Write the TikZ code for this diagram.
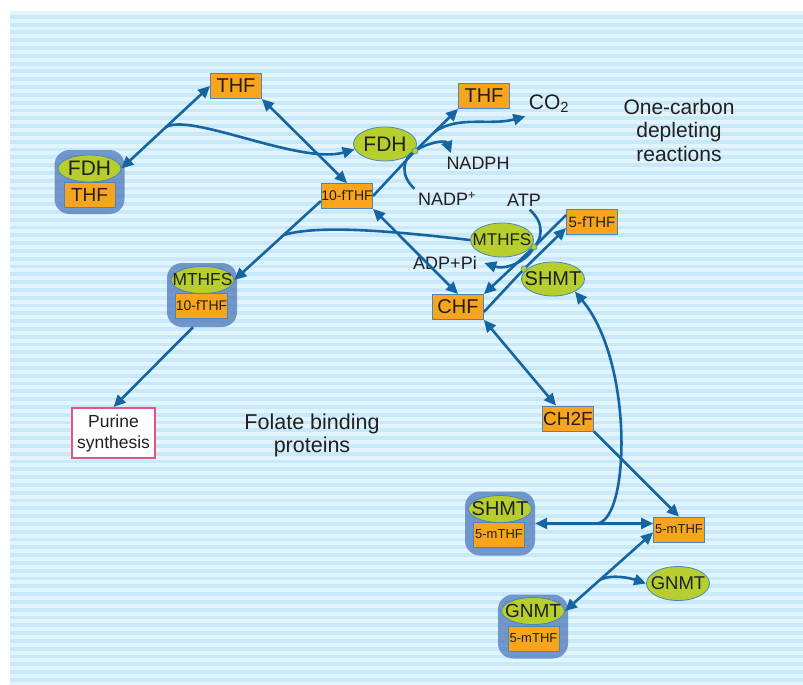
\documentclass[tikz,border=0pt]{standalone}
\usepackage{fontspec}
\setmainfont{Liberation Sans}
\usetikzlibrary{arrows.meta,shapes,positioning,calc}

\definecolor{flowblue}{HTML}{1565A3}
\definecolor{boxorange}{HTML}{F8A51C}
\definecolor{enzgreen}{HTML}{B6CE2E}
\definecolor{edgeblue}{HTML}{4A86BE}
\definecolor{stripelight}{HTML}{E2F4FC}
\definecolor{stripedark}{HTML}{C7E9F9}
\definecolor{cplxblue}{HTML}{4F78BA}
\definecolor{purpink}{HTML}{E8527E}
\definecolor{txt}{HTML}{231F20}

\begin{document}
\begin{tikzpicture}[x=1pt, y=-1pt,
    met/.style={draw=edgeblue, line width=0.8pt, fill=boxorange, minimum width=51pt, minimum height=25pt, inner sep=0pt, text=txt, font=\fontsize{20}{24}\selectfont},
    enz/.style={ellipse, draw=edgeblue, line width=0.8pt, fill=enzgreen, minimum width=63pt, minimum height=34pt, inner ysep=0pt, inner xsep=-8pt, text=txt, font=\fontsize{20}{24}\selectfont},
    cplx/.style={rounded corners=15pt, fill=cplxblue, fill opacity=0.75, minimum width=70pt, minimum height=64pt},
    lbl/.style={text=txt, align=center, font=\fontsize{18}{22}\selectfont},
    rxn/.style={circle, draw=edgeblue, line width=0.6pt, fill=enzgreen, inner sep=0pt, minimum size=6pt},
    flow/.style={draw=flowblue, line width=2.6pt, -{Triangle[length=12pt,width=11pt]}},
    flow2/.style={flow, {Triangle[length=12pt,width=11pt]}-{Triangle[length=12pt,width=11pt]}},
    feed/.style={draw=flowblue, line width=2.6pt}]

    % striped background
    \useasboundingbox (0,0) rectangle (803,685);
    \fill[stripelight] (10,11) rectangle (803,685);
    \foreach \i in {0,...,85}
        \fill[stripedark] (10,{14.9+7.8*\i}) rectangle (803,{18.8+7.8*\i});

    % protein bound folates
    \node[cplx] (c1) at (89.5,182) {};
    \node[enz, minimum height=27pt, font=\fontsize{21}{24}\selectfont] (ce1) at (89.5,168.5) {FDH};
    \node[met, font=\fontsize{19}{24}\selectfont] (cm1) at (89.5,194.5) {THF};

    \node[cplx] (c2) at (202,295) {};
    \node[enz, minimum height=27pt, font=\fontsize{17.4}{22}\selectfont] (ce2) at (202.5,280) {MTHFS};
    \node[met, font=\fontsize{14}{18}\selectfont] (cm2) at (201.5,306) {10-fTHF};

    \node[cplx] (c3) at (500,523.5) {};
    \node[enz, minimum height=27pt] (ce3) at (500,509) {SHMT};
    \node[met, font=\fontsize{13}{16}\selectfont] (cm3) at (499,534.5) {5-mTHF};

    \node[cplx] (c4) at (533,626.5) {};
    \node[enz, minimum height=27pt, font=\fontsize{19}{24}\selectfont] (ce4) at (533,611) {GNMT};
    \node[met, font=\fontsize{13}{16}\selectfont] (cm4) at (533.5,638.5) {5-mTHF};

    % free folates
    \node[met] (thf1) at (236,86) {THF};
    \node[met] (thf2) at (484,96) {THF};
    \node[met, font=\fontsize{14}{18}\selectfont] (tf10) at (347,196) {10-fTHF};
    \node[met, font=\fontsize{15}{18}\selectfont] (ff5) at (592,222) {5-fTHF};
    \node[met] (chf) at (458,307) {CHF};
    \node[met, font=\fontsize{19}{24}\selectfont] (ch2f) at (568,418.5) {CH2F};
    \node[met, font=\fontsize{13}{16}\selectfont] (m5) at (679,529.5) {5-mTHF};

    % enzymes
    \node[enz, font=\fontsize{21}{24}\selectfont] (fdh) at (385,144) {FDH};
    \node[enz, font=\fontsize{17}{22}\selectfont] (mthfs) at (502,240) {MTHFS};
    \node[enz] (shmt) at (553,279) {SHMT};
    \node[enz, font=\fontsize{18.5}{22}\selectfont] (gnmt) at (678,583.5) {GNMT};

    % labels
    \node[lbl, font=\fontsize{21}{24}\selectfont] (co2) at (549,104) {CO\textsubscript{2}};
    \node[lbl] (nadph) at (478,163) {NADPH};
    \node[lbl] (nadp) at (447,199) {NADP\textsuperscript{+}};
    \node[lbl] (atp) at (524,200) {ATP};
    \node[lbl] (adp) at (445,263) {ADP+Pi};
    \node[lbl, font=\fontsize{21}{23.5}\selectfont] (onec) at (679,130) {One-carbon\\depleting\\reactions};
    \node[lbl, font=\fontsize{21.5}{23}\selectfont] (fbp) at (312,435) {Folate binding\\proteins};
    \node[draw=purpink, line width=2pt, fill=white, minimum width=83pt, minimum height=50pt, align=center, text=txt, font=\fontsize{17.5}{21}\selectfont] (pur) at (113.5,433) {Purine\\synthesis};

    % reaction points
    \coordinate (d1) at (415,151);
    \coordinate (d2) at (534,247);
    \coordinate (d3) at (524,269);

    % THF and FDH
    \draw[flow2] (ce1.east) -- (thf1.west);
    \draw[flow2] (thf1.south east) -- (tf10.north);
    \coordinate (j1) at ($(ce1.east)!0.5!(thf1.west)$);
    \draw[flow] (j1) .. controls (190,112) and (300,165) .. (fdh.190);
    \draw[flow] (tf10.east) -- (d1) -- (thf2.south west);
    \coordinate (j3) at ($(d1)!0.45!(thf2.south west)$);
    \draw[flow] (j3) .. controls (458,115) and (490,126) .. (co2.south west);
    \draw[flow] (d1) .. controls (428,142) and (446,140) .. ([xshift=8pt]nadph.north west);
    \draw[feed] (nadp.north west) .. controls (400,176) and (402,158) .. (d1);

    % MTHFS and SHMT
    \draw[flow] ([yshift=7pt]ff5.west) -- (d2) -- (chf.north east);
    \draw[flow] (atp.-60) .. controls (546,224) and (541,240) .. (d2) .. controls (527,262) and (505,270) .. ([xshift=4pt]adp.east);
    \draw[flow] ([yshift=-5pt]chf.east) -- (d3) -- ([yshift=-6pt]ff5.west);
    \draw[flow] ([yshift=-5pt]tf10.west) -- (ce2.east);
    \coordinate (j2) at ($([yshift=-5pt]tf10.west)!0.43!(ce2.east)$);
    \draw[feed] (mthfs.west) .. controls (400,232) and (320,224) .. (j2);
    \draw[flow2] (tf10.south east) -- (chf.north);

    % one-carbon chain
    \draw[flow2] (chf.south east) -- ([xshift=-12pt]ch2f.north);
    \draw[flow] (ch2f.south east) -- (m5.north);
    \draw[flow2] (c3.east) -- ([yshift=6pt]m5.west);
    \coordinate (j5) at ($(c3.east)!0.52!([yshift=6pt]m5.west)$);
    \draw[flow] (j5) .. controls (630,522) and (634,362) .. (shmt.-30);
    \draw[flow2] ([yshift=-3pt]m5.west) -- (ce4.east);
    \coordinate (j6) at ($([yshift=-3pt]m5.west)!0.6!(ce4.east)$);
    \draw[flow] (j6) .. controls (612,574) and (630,578) .. (gnmt.west);
    \draw[flow] ([xshift=-9pt]c2.south) -- (pur.north);

    % reaction dots
    \node[rxn] (r1) at (d1) {};
    \node[rxn] (r2) at (d2) {};
    \node[rxn] (r3) at (d3) {};
\end{tikzpicture}
\end{document}
